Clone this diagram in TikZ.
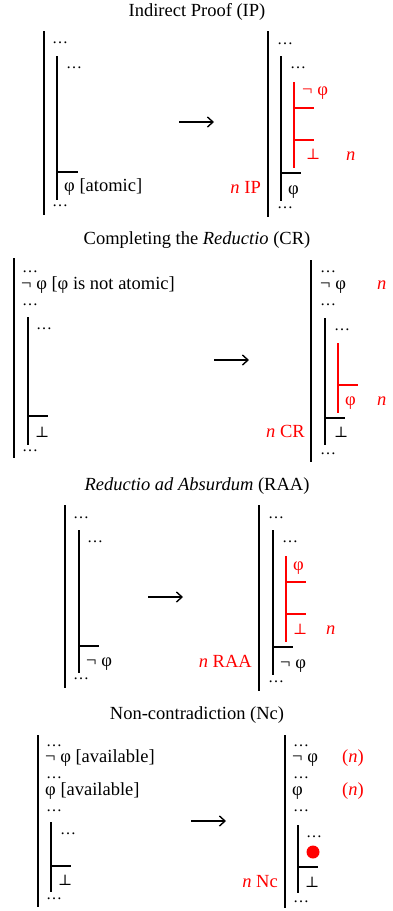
\documentclass[tikz,border=0pt]{standalone}
\usepackage{fontspec}
\setmainfont{Liberation Serif}
\newfontfamily\dejav{DejaVu Serif}
\usetikzlibrary{arrows.meta}
\begin{document}
\begin{tikzpicture}[x=1pt,y=-1pt,
  txt/.style={inner sep=0pt,anchor=west,text height=0.7em,text depth=0.2em,font=\fontsize{18.5}{20}\selectfont},
  ttl/.style={txt,anchor=center},
  rtxt/.style={txt,text=red},
  rtxte/.style={txt,text=red,anchor=east},
  dotsty/.style={inner sep=0pt,anchor=base west,font=\fontsize{16}{16}\selectfont},
  arr/.style={line width=1.4pt,-{Straight Barb[length=5.5pt,width=10pt,line width=1.4pt]}},
  bar/.style={line width=1.6pt},
  hl/.style={line width=1.2pt},
  rbar/.style={line width=1.4pt,red},
  rhl/.style={line width=1.2pt,red}]
\useasboundingbox (0,0) rectangle (392,911);
\newcommand{\falsum}{{\dejav\fontsize{15}{15}\selectfont ⊥}}
% ---------- Section 1: IP ----------
\node[ttl] (t1) at (197,14) {Indirect Proof (IP)};
\draw[bar] (44,31) -- (44,215);
\node[dotsty] (s1a) at (52,43) {…};
\draw[bar] (57,56) -- (57,200);
\node[dotsty] (s1b) at (66,68) {…};
\draw[hl] (57,172) -- (78,172);
\node[txt] (s1c) at (64,189) {φ [atomic]};
\node[dotsty] (s1d) at (52,206) {…};
\coordinate (a1s) at (179,122); \coordinate (a1e) at (214,122);
\draw[arr] (a1s) -- (a1e);
\draw[bar] (268,31) -- (268,217);
\node[dotsty] (s1e) at (277,44) {…};
\draw[bar] (281,56) -- (281,201);
\node[dotsty] (s1f) at (290,68) {…};
\draw[rbar] (294,82) -- (294,168);
\node[rtxt] (s1g) at (302,93) {¬ φ};
\draw[rhl] (294,108) -- (314,108);
\draw[rhl] (294,140) -- (314,140);
\node[rtxt] (s1h) at (306,157) {\falsum};
\node[rtxt] (s1i) at (346,158) {\textit{n}};
\draw[hl] (281,173) -- (301,173);
\node[txt] (s1j) at (288,192) {φ};
\node[rtxte] (s1k) at (261,191) {\textit{n} IP};
\node[dotsty] (s1l) at (277,208) {…};
% ---------- Section 2: CR ----------
\node[ttl] (t2) at (197,242) {Completing the \textit{Reductio} (CR)};
\draw[bar] (14,258) -- (14,458);
\node[dotsty] (s2a) at (22,272) {…};
\node[txt] (s2b) at (21,287) {¬ φ [φ is not atomic]};
\node[dotsty] (s2c) at (22,305) {…};
\draw[bar] (28,317) -- (28,445);
\node[dotsty] (s2d) at (36,329) {…};
\draw[hl] (28,416) -- (48,416);
\node[txt] (s2e) at (35,435) {\falsum};
\node[dotsty] (s2f) at (22,451) {…};
\coordinate (a2s) at (214,360); \coordinate (a2e) at (249,360);
\draw[arr] (a2s) -- (a2e);
\draw[bar] (311,260) -- (311,462);
\node[dotsty] (s2g) at (320,272) {…};
\node[txt] (s2h) at (320,287) {¬ φ};
\node[rtxt] (s2i) at (377,287) {\textit{n}};
\node[dotsty] (s2j) at (320,305) {…};
\draw[bar] (325,318) -- (325,445);
\node[dotsty] (s2k) at (334,330) {…};
\draw[rbar] (338,343) -- (338,413);
\draw[rhl] (338,385) -- (358,385);
\node[rtxt] (s2l) at (345,403) {φ};
\node[rtxt] (s2m) at (377,403) {\textit{n}};
\draw[hl] (325,418) -- (345,418);
\node[txt] (s2n) at (334,435) {\falsum};
\node[rtxte] (s2o) at (305,435) {\textit{n} CR};
\node[dotsty] (s2p) at (320,454) {…};
% ---------- Section 3: RAA ----------
\node[ttl] (t3) at (197,488) {\textit{Reductio ad Absurdum} (RAA)};
\draw[bar] (65,505) -- (65,688);
\node[dotsty] (s3a) at (73,518) {…};
\draw[bar] (79,530) -- (79,673);
\node[dotsty] (s3b) at (87,542) {…};
\draw[hl] (79,646) -- (99,646);
\node[txt] (s3c) at (86,664) {¬ φ};
\node[dotsty] (s3d) at (73,679) {…};
\coordinate (a3s) at (148,597); \coordinate (a3e) at (183,597);
\draw[arr] (a3s) -- (a3e);
\draw[bar] (259,505) -- (259,691);
\node[dotsty] (s3e) at (268,518) {…};
\draw[bar] (273,530) -- (273,675);
\node[dotsty] (s3f) at (282,542) {…};
\draw[rbar] (286,556) -- (286,642);
\node[rtxt] (s3g) at (293,568) {φ};
\draw[rhl] (286,582) -- (306,582);
\draw[rhl] (286,614) -- (306,614);
\node[rtxt] (s3h) at (293,632) {\falsum};
\node[rtxt] (s3i) at (326,632) {\textit{n}};
\draw[hl] (273,647) -- (293,647);
\node[txt] (s3j) at (280,666) {¬ φ};
\node[rtxte] (s3k) at (252,665) {\textit{n} RAA};
\node[dotsty] (s3l) at (268,682) {…};
% ---------- Section 4: Nc ----------
\node[ttl] (t4) at (197,717) {Non-contradiction (Nc)};
\draw[bar] (38,735) -- (38,907);
\node[dotsty] (s4a) at (46,746) {…};
\node[txt] (s4b) at (45,760) {¬ φ [available]};
\node[dotsty] (s4c) at (46,778) {…};
\node[txt] (s4d) at (45,793) {φ [available]};
\node[dotsty] (s4e) at (46,811) {…};
\draw[bar] (51,822) -- (51,892);
\node[dotsty] (s4f) at (60,834) {…};
\draw[hl] (51,866) -- (71,866);
\node[txt] (s4g) at (58,883) {\falsum};
\node[dotsty] (s4h) at (46,899) {…};
\coordinate (a4s) at (191,821); \coordinate (a4e) at (226,821);
\draw[arr] (a4s) -- (a4e);
\draw[bar] (285,735) -- (285,908);
\node[dotsty] (s4i) at (293,746) {…};
\node[txt] (s4j) at (292,760) {¬ φ};
\node[rtxt] (s4k) at (342,760) {(\textit{n})};
\node[dotsty] (s4l) at (293,778) {…};
\node[txt] (s4m) at (292,793) {φ};
\node[rtxt] (s4n) at (342,793) {(\textit{n})};
\node[dotsty] (s4o) at (293,811) {…};
\draw[bar] (298,825) -- (298,893);
\node[dotsty] (s4p) at (306,837) {…};
\fill[red] (313,852) circle (6.5);
\draw[hl] (298,867) -- (318,867);
\node[txt] (s4q) at (305,885) {\falsum};
\node[rtxte] (s4r) at (278,885) {\textit{n} Nc};
\node[dotsty] (s4s) at (293,902) {…};
\end{tikzpicture}
\end{document}
